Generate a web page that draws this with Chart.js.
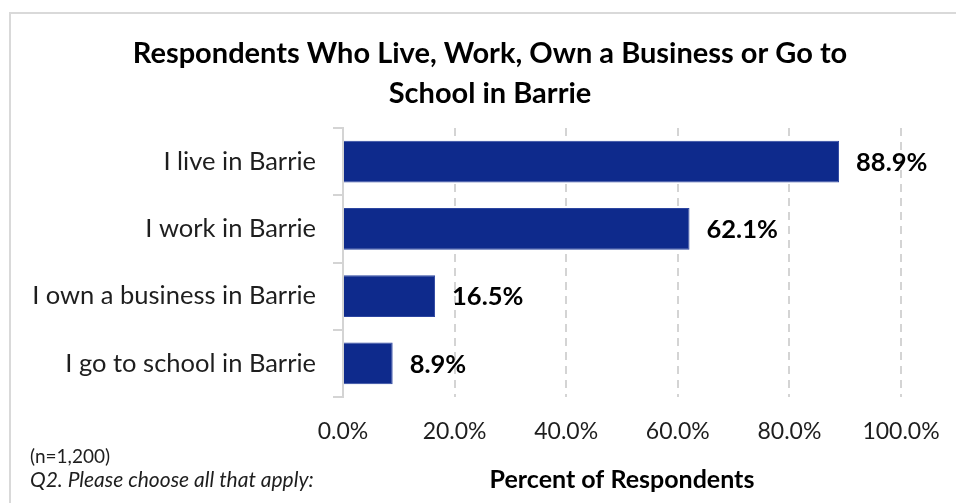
<!DOCTYPE html>
<html>
<head>
<meta charset="utf-8">
<script src="https://cdn.jsdelivr.net/npm/chart.js@4.4.1/dist/chart.umd.min.js"></script>
<style>
  html, body { margin: 0; padding: 0; background: #fff; overflow: hidden; }
  #wrap { width: 956px; height: 503px; position: relative; }
</style>
</head>
<body>
<div id="wrap"><canvas id="barrieChart"></canvas></div>
<script>
// Chart data
var categories = ['I live in Barrie', 'I work in Barrie', 'I own a business in Barrie', 'I go to school in Barrie'];
var percentValues = [88.9, 62.1, 16.5, 8.9];
var xTicks = [0, 20, 40, 60, 80, 100];
var titleLines = ['Respondents Who Live, Work, Own a Business or Go to', 'School in Barrie'];
var footnotes = ['(n=1,200)', 'Q2. Please choose all that apply:'];

var fontFamily = 'Lato, "Open Sans", sans-serif';
var textColor = '#1e1e1e';

// Draws the frame, the title, bar value labels and the notes at the bottom left
var extrasPlugin = {
    id: 'extras',
    beforeDraw: function(chart) {
        var ctx = chart.ctx;
        ctx.save();
        ctx.strokeStyle = '#d9d9d9';
        ctx.lineWidth = 2;
        ctx.beginPath();
        ctx.moveTo(10, 503);
        ctx.lineTo(10, 13);
        ctx.lineTo(956, 13);
        ctx.stroke();

        // title is centred over the chart box, not the whole canvas
        ctx.font = 'bold 29px ' + fontFamily;
        ctx.fillStyle = '#000';
        ctx.textAlign = 'center';
        ctx.textBaseline = 'middle';
        titleLines.forEach(function(line, i) {
            ctx.fillText(line, 490, 54 + i * 40);
        });
        ctx.restore();
    },
    afterDatasetsDraw: function(chart) {
        var ctx = chart.ctx;
        var meta = chart.getDatasetMeta(0);
        ctx.save();
        ctx.font = 'bold 25.5px ' + fontFamily;
        ctx.fillStyle = '#000';
        ctx.textBaseline = 'middle';
        ctx.textAlign = 'left';
        meta.data.forEach(function(bar, i) {
            ctx.fillText(percentValues[i].toFixed(1) + '%', bar.x + 17, bar.y + 1);
        });

        ctx.fillStyle = textColor;
        ctx.font = '19px ' + fontFamily;
        ctx.fillText(footnotes[0], 30, 457);
        ctx.font = 'italic 21px ' + fontFamily;
        ctx.fillText(footnotes[1], 30, 480);
        ctx.restore();
    }
};

var ctx = document.getElementById('barrieChart').getContext('2d');
var barrieChart = new Chart(ctx, {
    type: 'bar',
    data: {
        labels: categories,
        datasets: [{
            data: percentValues,
            backgroundColor: '#0e2a8c',
            borderColor: '#2c45a0',
            borderWidth: 1,
            barPercentage: 0.62,
            categoryPercentage: 1
        }]
    },
    options: {
        indexAxis: 'y',
        responsive: true,
        maintainAspectRatio: false,
        animation: false,
        layout: {
            padding: { left: 10, right: 55, top: 128, bottom: 0 }
        },
        plugins: {
            legend: { display: false },
            tooltip: { enabled: false },
            title: { display: false }
        },
        scales: {
            x: {
                min: 0,
                max: 100,
                afterBuildTicks: function(scale) {
                    scale.ticks = xTicks.map(function(v) { return { value: v }; });
                },
                afterFit: function(scale) {
                    scale.height = 106;
                    scale.paddingLeft = 0;
                    scale.paddingRight = 0;
                },
                ticks: {
                    color: textColor,
                    padding: 21,
                    font: { family: fontFamily, size: 23 },
                    callback: function(value) { return value.toFixed(1) + '%'; }
                },
                grid: {
                    color: '#d4d4d4',
                    lineWidth: 2,
                    drawTicks: false
                },
                border: { display: false, dash: [8, 6] },
                title: {
                    display: true,
                    text: 'Percent of Respondents',
                    color: '#000',
                    font: { family: fontFamily, size: 25, weight: 'bold' },
                    padding: { top: 4, bottom: 8 }
                }
            },
            y: {
                afterFit: function(scale) {
                    scale.width = 333;
                },
                ticks: {
                    color: textColor,
                    padding: 17,
                    font: { family: fontFamily, size: 25.5 }
                },
                grid: {
                    drawOnChartArea: false,
                    drawTicks: true,
                    offset: true,
                    tickLength: 10,
                    color: '#d4d4d4',
                    lineWidth: 2
                },
                border: { display: true, color: '#d4d4d4', width: 2 }
            }
        }
    },
    plugins: [extrasPlugin]
});
</script>
</body>
</html>
